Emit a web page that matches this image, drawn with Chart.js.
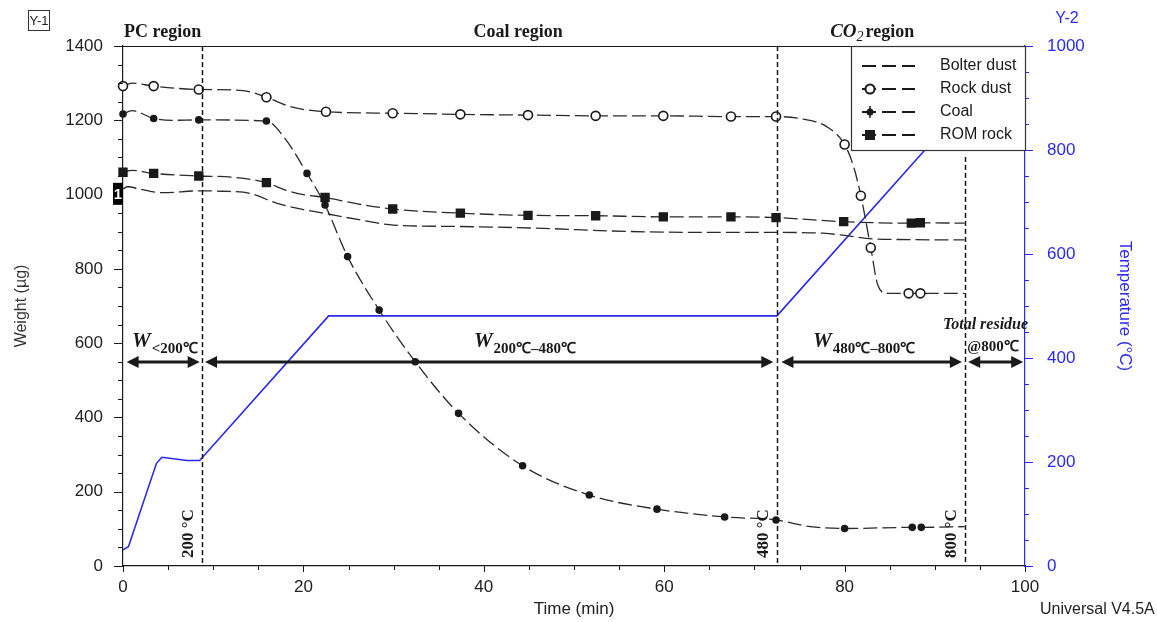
<!DOCTYPE html>
<html><head><meta charset="utf-8">
<script src="https://cdn.jsdelivr.net/npm/chart.js@4.4.0/dist/chart.umd.min.js"></script>
<style>html,body{margin:0;padding:0;background:#fff;}#wrap{width:1157px;height:622px;}</style>
</head><body><div id="wrap"><canvas id="c" width="1157" height="622"></canvas></div>
<script>
// ---------- data ----------
const bolterT = [0, 0.5, 2, 4.4, 8.5, 11, 14.1, 17, 19.5, 22.2, 26, 30, 37.4, 46.6, 54, 64.3, 72.5, 77.6, 80, 82.4, 86, 93.3];
const bolterW = [1015, 1021, 1014, 1005, 1010, 1009, 1003, 977, 962, 950, 933, 918, 914, 909, 902, 898, 898, 896, 890, 882, 879, 878];

const rockT = [0, 1, 3.4, 8.4, 13.3, 15.9, 18.5, 22.5, 30, 37.4, 44.9, 52.4, 59.9, 67.4, 72.4, 75.4, 78, 80, 81, 81.8, 82.9, 83.7, 84.7, 87.1, 88.4, 93.3];
const rockW = [1292, 1300, 1292, 1283, 1280, 1262, 1237, 1223, 1219, 1216, 1214, 1212, 1212, 1210, 1210, 1203, 1183, 1135, 1075, 997, 857, 755, 734, 734, 734, 734];
const rockMarkT = [0, 3.4, 8.4, 15.9, 22.5, 29.9, 37.4, 44.9, 52.4, 59.9, 67.4, 72.4, 80, 81.8, 82.9, 87.1, 88.4];
const rockMarkW = [1292, 1292, 1283, 1262, 1223, 1219, 1216, 1214, 1212, 1212, 1210, 1210, 1135, 997, 857, 734, 734];

const coalT = [0, 1, 3.4, 5.5, 8.4, 15.9, 17.8, 20.4, 22.4, 24.9, 28.4, 32.4, 37.2, 44.3, 51.7, 59.2, 66.7, 72.4, 76.2, 80, 87.5, 88.5, 93.3];
const coalW = [1217, 1226, 1205, 1200, 1201, 1198, 1156, 1057, 972, 833, 689, 550, 411, 270, 191, 153, 132, 124, 106, 101, 104, 104, 106];
const coalMarkT = [0, 3.4, 8.4, 15.9, 20.4, 22.4, 24.9, 28.4, 32.4, 37.2, 44.3, 51.7, 59.2, 66.7, 72.4, 80, 87.5, 88.5];
const coalMarkW = [1217, 1205, 1201, 1198, 1057, 972, 833, 689, 550, 411, 270, 191, 153, 132, 124, 101, 104, 104];

const romT = [0, 1, 3.4, 8.4, 12, 15.9, 18, 20, 22.4, 26, 29.9, 37.4, 44.9, 52.4, 59.9, 67.4, 72.4, 79.9, 87.4, 88.4, 93.3];
const romW = [1060, 1065, 1057, 1050, 1047, 1032, 1012, 1000, 992, 975, 961, 950, 944, 943, 940, 940, 938, 927, 923, 924, 923];
const romMarkT = [0, 3.4, 8.4, 15.9, 22.4, 29.9, 37.4, 44.9, 52.4, 59.9, 67.4, 72.4, 79.9, 87.4, 88.4];
const romMarkW = [1060, 1057, 1050, 1032, 992, 961, 950, 944, 943, 940, 940, 938, 927, 923, 924];

const tempT = [0, 0.6, 3.7, 4.3, 7.1, 8.5, 22.8, 72.5, 88.9];
const tempC = [31, 37, 197, 209, 203, 203, 481, 481, 800];

const seriesNames = ['Bolter dust', 'Rock dust', 'Coal', 'ROM rock'];
const regionTimes = [8.76, 72.5, 93.3];           // times where 200, 480, 800 °C are reached
const regionTempLabels = ['200 °C', '480 °C', '800 °C'];
const regionNames = ['PC region', 'Coal region', 'region'];
const xTickStep = 20, yTickStep = 200, y2TickStep = 200;

// ---------- helpers ----------
const pts = (xs, ys) => xs.map((x, i) => ({x, y: ys[i]}));
const INK = '#1a1a1a', BLUE = '#2a2af2';
const SANS = '"Liberation Sans", Arial, sans-serif';
const SERIF = '"Liberation Serif", "Times New Roman", serif';
const plain = v => String(v);

const lineDs = (label, xs, ys) => ({
  label, data: pts(xs, ys), yAxisID: 'y', borderColor: '#2a2a2a', borderWidth: 1.3,
  borderDash: [14, 5], pointRadius: 0, fill: false, cubicInterpolationMode: 'monotone'
});
const markDs = (label, xs, ys, style, r, bg) => ({
  label, data: pts(xs, ys), yAxisID: 'y', showLine: false, pointStyle: style, pointRadius: r,
  pointBackgroundColor: bg, pointBorderColor: INK, pointBorderWidth: 1.6, clip: false
});

const deco = {
  id: 'deco',
  afterDatasetsDraw(chart) {
    const ctx = chart.ctx, ca = chart.chartArea;
    const X = v => chart.scales.x.getPixelForValue(v);
    const Y = v => chart.scales.y.getPixelForValue(v);
    ctx.save();
    // vertical region separators
    ctx.strokeStyle = INK; ctx.lineWidth = 1.5; ctx.setLineDash([5, 3]);
    regionTimes.forEach((t, i) => {
      const px = Math.round(X(t)) + 0.5;
      ctx.beginPath();
      ctx.moveTo(px, i === 2 ? ca.top + 111 : ca.top);
      ctx.lineTo(px, ca.bottom); ctx.stroke();
    });
    ctx.setLineDash([]);
    // rotated temperature labels
    ctx.fillStyle = INK; ctx.font = 'bold 17px ' + SERIF;
    ctx.textAlign = 'left'; ctx.textBaseline = 'middle';
    regionTimes.forEach((t, i) => {
      ctx.save(); ctx.translate(X(t) - 13, ca.bottom - 8); ctx.rotate(-Math.PI / 2);
      ctx.fillText(regionTempLabels[i], 0, 0); ctx.restore();
    });
    // double arrows
    const ay = Math.round(Y(549));
    const arrow = (x1, x2) => {
      ctx.strokeStyle = INK; ctx.fillStyle = INK; ctx.lineWidth = 3;
      ctx.beginPath(); ctx.moveTo(x1 + 8, ay); ctx.lineTo(x2 - 8, ay); ctx.stroke();
      ctx.beginPath(); ctx.moveTo(x1, ay); ctx.lineTo(x1 + 12, ay - 6); ctx.lineTo(x1 + 12, ay + 6); ctx.closePath(); ctx.fill();
      ctx.beginPath(); ctx.moveTo(x2, ay); ctx.lineTo(x2 - 12, ay - 6); ctx.lineTo(x2 - 12, ay + 6); ctx.closePath(); ctx.fill();
    };
    arrow(X(0.4), X(8.5));
    arrow(X(9.1), X(72.1));
    arrow(X(73.0), X(93.0));
    arrow(X(93.7), X(99.8));
    // W labels
    const wLabel = (t, sub) => {
      const x0 = X(t);
      ctx.fillStyle = INK; ctx.textAlign = 'left'; ctx.textBaseline = 'alphabetic';
      ctx.font = 'italic bold 21px ' + SERIF;
      ctx.fillText('W', x0, ay - 15);
      const w = ctx.measureText('W').width;
      ctx.font = 'bold 15px ' + SERIF;
      ctx.fillText(sub, x0 + w + 1, ay - 9);
    };
    wLabel(1.0, '<200\u2103');
    wLabel(38.9, '200\u2103\u2013480\u2103');
    wLabel(76.5, '480\u2103\u2013800\u2103');
    ctx.font = 'italic bold 16px ' + SERIF; ctx.textAlign = 'left';
    ctx.fillText('Total residue', X(90.9), ay - 33);
    ctx.font = 'bold 15px ' + SERIF;
    ctx.fillText('@800\u2103', X(93.6), ay - 11);
    ctx.restore();
  },
  afterDraw(chart) {
    const ctx = chart.ctx, ca = chart.chartArea;
    const sx = chart.scales.x, sy = chart.scales.y, sy2 = chart.scales.y2;
    ctx.save();
    // top frame line
    ctx.strokeStyle = INK; ctx.lineWidth = 1.2;
    ctx.beginPath(); ctx.moveTo(ca.left, ca.top + 0.5); ctx.lineTo(ca.right, ca.top + 0.5); ctx.stroke();
    // tick marks (major + minor)
    ctx.lineWidth = 1;
    for (let v = 0; v <= sx.max; v += 5) {
      const px = Math.round(sx.getPixelForValue(v)) + 0.5, len = v % xTickStep === 0 ? 6 : 4;
      ctx.beginPath(); ctx.moveTo(px, ca.bottom); ctx.lineTo(px, ca.bottom + len); ctx.stroke();
    }
    for (let v = 0; v <= sy.max; v += 50) {
      const py = Math.round(sy.getPixelForValue(v)) + 0.5, len = v % yTickStep === 0 ? 9 : 5;
      ctx.beginPath(); ctx.moveTo(ca.left - len, py); ctx.lineTo(ca.left, py); ctx.stroke();
    }
    ctx.strokeStyle = BLUE;
    for (let v = 0; v <= sy2.max; v += 50) {
      const py = Math.round(sy2.getPixelForValue(v)) + 0.5, len = v % y2TickStep === 0 ? 8 : 4;
      ctx.beginPath(); ctx.moveTo(ca.right, py); ctx.lineTo(ca.right + len, py); ctx.stroke();
    }
    // region headers
    ctx.fillStyle = INK; ctx.textBaseline = 'middle';
    ctx.font = 'bold 18px ' + SERIF; ctx.textAlign = 'left';
    ctx.fillText(regionNames[0], ca.left + 1, ca.top - 14);
    ctx.textAlign = 'center';
    ctx.fillText(regionNames[1], sx.getPixelForValue(43.8), ca.top - 14);
    ctx.textAlign = 'left';
    let cx = sx.getPixelForValue(78.4);
    ctx.font = 'italic bold 19px ' + SERIF;
    ctx.fillText('CO', cx, ca.top - 14); cx += ctx.measureText('CO').width;
    ctx.font = 'italic 14px ' + SERIF;
    ctx.fillText('2', cx, ca.top - 9); cx += ctx.measureText('2').width + 2;
    ctx.font = 'bold 18px ' + SERIF;
    ctx.fillText(regionNames[2], cx, ca.top - 14);
    // legend box
    const lx = ca.right - 174, ly = ca.top, lw = 174, lh = 104;
    ctx.fillStyle = '#fff'; ctx.fillRect(lx, ly, lw, lh);
    ctx.strokeStyle = '#333'; ctx.lineWidth = 1.2; ctx.strokeRect(lx + 0.5, ly + 0.5, lw, lh);
    const rows = [20, 43, 66, 89];
    seriesNames.forEach((name, i) => {
      const ry = ly + rows[i];
      ctx.strokeStyle = INK; ctx.lineWidth = 1.8; ctx.setLineDash([14, 6]);
      ctx.beginPath(); ctx.moveTo(lx + 11, ry); ctx.lineTo(lx + 64, ry); ctx.stroke();
      ctx.setLineDash([]);
      ctx.fillStyle = INK; ctx.strokeStyle = INK; ctx.lineWidth = 2;
      const mx = lx + 19;
      if (i === 1) { ctx.fillStyle = '#fff'; ctx.beginPath(); ctx.arc(mx, ry, 4.5, 0, Math.PI * 2); ctx.fill(); ctx.stroke(); }
      if (i === 2) { ctx.beginPath(); ctx.arc(mx, ry, 3.5, 0, Math.PI * 2); ctx.fill();
        ctx.lineWidth = 1.5; ctx.beginPath(); ctx.moveTo(mx - 6, ry); ctx.lineTo(mx + 6, ry); ctx.moveTo(mx, ry - 6); ctx.lineTo(mx, ry + 6); ctx.stroke(); }
      if (i === 3) { ctx.fillRect(mx - 5, ry - 5, 10, 10); }
      ctx.fillStyle = INK; ctx.font = '16px ' + SANS; ctx.textAlign = 'left'; ctx.textBaseline = 'middle';
      ctx.fillText(name, lx + 89, ry);
    });
    // "1" marker box on left axis
    const by = sy.getPixelForValue(1002);
    ctx.fillStyle = '#000'; ctx.fillRect(ca.left - 10, by - 11, 10, 22);
    ctx.fillStyle = '#fff'; ctx.font = 'bold 15px ' + SANS; ctx.textAlign = 'center';
    ctx.fillText('1', ca.left - 5, by + 1);
    // Y-1 box, Y-2 label, software tag
    ctx.strokeStyle = '#333'; ctx.lineWidth = 1; ctx.strokeRect(28.5, 10.5, 21, 20);
    ctx.fillStyle = '#222'; ctx.font = '13px ' + SANS; ctx.fillText('Y-1', 39, 21);
    ctx.fillStyle = BLUE; ctx.font = '16px ' + SANS; ctx.fillText('Y-2', 1067, 19);
    ctx.fillStyle = '#222'; ctx.textAlign = 'left'; ctx.fillText('Universal V4.5A', 1040, 610);
    ctx.restore();
  }
};

new Chart(document.getElementById('c'), {
  type: 'line',
  data: {
    datasets: [
      markDs('Rock dust', rockMarkT, rockMarkW, 'circle', 4.5, '#fff'),
      markDs('Coal', coalMarkT, coalMarkW, 'circle', 3, INK),
      markDs('ROM rock', romMarkT, romMarkW, 'rect', 5.5, INK),
      lineDs('Bolter dust', bolterT, bolterW),
      lineDs('Rock dust', rockT, rockW),
      lineDs('Coal', coalT, coalW),
      lineDs('ROM rock', romT, romW),
      { label: 'Temperature', data: pts(tempT, tempC), yAxisID: 'y2', borderColor: BLUE,
        borderWidth: 1.6, pointRadius: 0, tension: 0, fill: false }
    ]
  },
  options: {
    responsive: false, animation: false, events: [],
    layout: { padding: { top: 46, left: 0, right: 0, bottom: 0 } },
    plugins: { legend: { display: false }, tooltip: { enabled: false } },
    scales: {
      x: {
        type: 'linear', min: 0, max: 100,
        ticks: { stepSize: xTickStep, callback: plain, color: '#222', font: { size: 17, family: SANS }, padding: 11, maxRotation: 0 },
        grid: { display: false, drawTicks: false },
        border: { display: true, color: INK, width: 1.2 },
        title: { display: true, text: 'Time (min)', color: '#222', font: { size: 17, family: SANS }, padding: { top: 0, bottom: 2 } },
        afterFit: s => { s.height = 56; }
      },
      y: {
        type: 'linear', position: 'left', min: 0, max: 1400,
        ticks: { stepSize: yTickStep, callback: plain, color: '#222', font: { size: 17, family: SANS }, padding: 20 },
        grid: { display: false, drawTicks: false },
        border: { display: true, color: INK, width: 1.2 },
        title: { display: true, text: 'Weight (\u00b5g)', color: '#333', font: { size: 16, family: SANS }, padding: { top: 12, bottom: 0 } },
        afterFit: s => { s.width = 123; }
      },
      y2: {
        type: 'linear', position: 'right', min: 0, max: 1000,
        ticks: { stepSize: y2TickStep, callback: plain, color: BLUE, font: { size: 17, family: SANS }, padding: 22 },
        grid: { display: false, drawTicks: false },
        border: { display: true, color: BLUE, width: 1.2 },
        title: { display: true, text: 'Temperature (\u00b0C)', color: BLUE, font: { size: 17, family: SANS }, padding: { top: 22, bottom: 0 } },
        afterFit: s => { s.width = 132; }
      }
    }
  },
  plugins: [deco]
});
</script>
</body></html>
